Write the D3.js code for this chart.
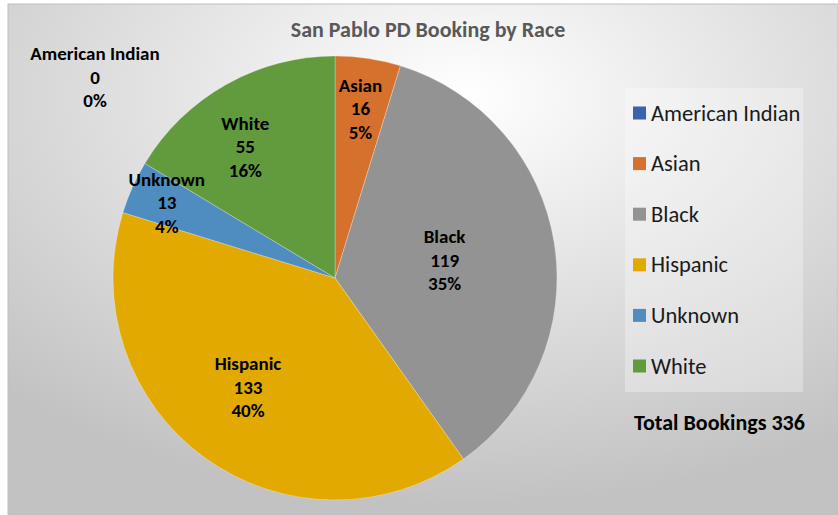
<!DOCTYPE html>
<html>
<head>
<meta charset="utf-8">
<script src="https://cdn.jsdelivr.net/npm/d3@7"></script>
<style>
    body { margin: 0; background: white; }
    svg { display: block; font-family: Calibri, Carlito, 'Liberation Sans', Arial, sans-serif; }
</style>
</head>
<body>
<div id="chart"></div>
<script>
const [WIDTH, HEIGHT] = [838, 515];

// data
const TITLE = 'San Pablo PD Booking by Race';
const CATEGORIES = ['American Indian', 'Asian', 'Black', 'Hispanic', 'Unknown', 'White'];
const BOOKINGS = [0, 16, 119, 133, 13, 55];
const COLORS = ['#3b62ae', '#d5702d', '#939393', '#e2aa00', '#4f8cc0', '#629b3e'];
const TOTAL_LABEL = 'Total Bookings';

// label placement: fraction of radius plus a small nudge (Excel "best fit")
const LABEL_LAYOUT = {
    'American Indian': { fixed: [95, 77] },
    'Asian': { f: 0.77, dx: 0, dy: 0 },
    'Black': { f: 0.5, dx: 0, dy: 0 },
    'Hispanic': { f: 0.63, dx: -5, dy: -4 },
    'Unknown': { f: 0.83, dx: 0, dy: 0 },
    'White': { f: 0.72, dx: -11, dy: 8 },
};

const PIE = { cx: 335, cy: 278, r: 222 };
const LEGEND = { x: 625, y: 88, w: 178, h: 304, rowY: 113, rowStep: 50.6 };

function render(selector) {
    const svg = d3.select(selector).append('svg')
        .attr('width', WIDTH)
        .attr('height', HEIGHT)
        .attr('viewBox', `0 0 ${WIDTH} ${HEIGHT}`);

    // chart background
    const grad = svg.append('defs').append('radialGradient')
        .attr('id', 'bg')
        .attr('cx', '55%').attr('cy', '18%').attr('r', '80%');
    grad.append('stop').attr('offset', '0%').attr('stop-color', '#ffffff');
    grad.append('stop').attr('offset', '100%').attr('stop-color', '#c2c2c2');

    svg.append('rect')
        .attr('x', 8).attr('y', 4)
        .attr('width', WIDTH - 8).attr('height', HEIGHT - 4)
        .attr('fill', 'url(#bg)')
        .attr('stroke', '#bfbfbf')
        .attr('stroke-width', 1);

    svg.append('text')
        .attr('x', 428).attr('y', 29)
        .attr('text-anchor', 'middle')
        .attr('dominant-baseline', 'central')
        .attr('font-size', 22)
        .attr('font-weight', 'bold')
        .attr('fill', '#595959')
        .text(TITLE);

    renderPie(svg);
    renderLegend(svg);
}

function renderPie(svg) {
    const total = d3.sum(BOOKINGS);
    const color = d3.scaleOrdinal().domain(CATEGORIES).range(COLORS);
    const pie = d3.pie().sort(null).value((d) => d.value);
    const arc = d3.arc().innerRadius(0).outerRadius(PIE.r);
    const data = pie(CATEGORIES.map((name, i) => ({ name, value: BOOKINGS[i] })));

    const g = svg.append('g')
        .attr('transform', `translate(${PIE.cx}, ${PIE.cy})`);

    g.selectAll('.slice')
        .data(data)
        .enter()
        .append('path')
        .attr('class', 'slice')
        .attr('d', arc)
        .attr('fill', (d) => color(d.data.name))
        .attr('stroke', 'rgba(255,255,255,0.45)')
        .attr('stroke-width', 0.6);

    const labels = svg.selectAll('.slice-label')
        .data(data)
        .enter()
        .append('text')
        .attr('class', 'slice-label')
        .attr('text-anchor', 'middle')
        .attr('font-size', 19)
        .attr('font-weight', 'bold')
        .attr('fill', '#000')
        .each((d) => {
            const lay = LABEL_LAYOUT[d.data.name];
            if (lay.fixed) {
                d.pos = lay.fixed;
            } else {
                const mid = (d.startAngle + d.endAngle) / 2;
                const rr = PIE.r * lay.f;
                d.pos = [PIE.cx + Math.sin(mid) * rr + lay.dx, PIE.cy - Math.cos(mid) * rr + lay.dy];
            }
        });

    labels.each(function (d) {
        const lines = [d.data.name, d.data.value, Math.round(d.data.value / total * 100) + '%'];
        d3.select(this).selectAll('tspan')
            .data(lines)
            .enter()
            .append('tspan')
            .attr('x', d.pos[0])
            .attr('y', (_, i) => d.pos[1] + (i - 1) * 23.5)
            .attr('dominant-baseline', 'central')
            .text((t) => t);
    });
}

function renderLegend(svg) {
    svg.append('rect')
        .attr('x', LEGEND.x).attr('y', LEGEND.y)
        .attr('width', LEGEND.w).attr('height', LEGEND.h)
        .attr('fill', 'rgba(255,255,255,0.3)');

    const rows = svg.selectAll('.legend-row')
        .data(CATEGORIES)
        .enter()
        .append('g')
        .attr('class', 'legend-row')
        .attr('transform', (d, i) => `translate(633, ${LEGEND.rowY + i * LEGEND.rowStep})`);

    rows.append('rect')
        .attr('x', 0).attr('y', -6.5)
        .attr('width', 13).attr('height', 13)
        .attr('fill', (d, i) => COLORS[i]);

    rows.append('text')
        .attr('x', 18)
        .attr('dominant-baseline', 'central')
        .attr('font-size', 22.5)
        .attr('fill', '#1a1a1a')
        .text((d) => d);

    svg.append('text')
        .attr('x', 634).attr('y', 422)
        .attr('dominant-baseline', 'central')
        .attr('font-size', 22)
        .attr('font-weight', 'bold')
        .attr('fill', '#000')
        .text(`${TOTAL_LABEL} ${d3.sum(BOOKINGS)}`);
}

render('#chart');
</script>
</body>
</html>
